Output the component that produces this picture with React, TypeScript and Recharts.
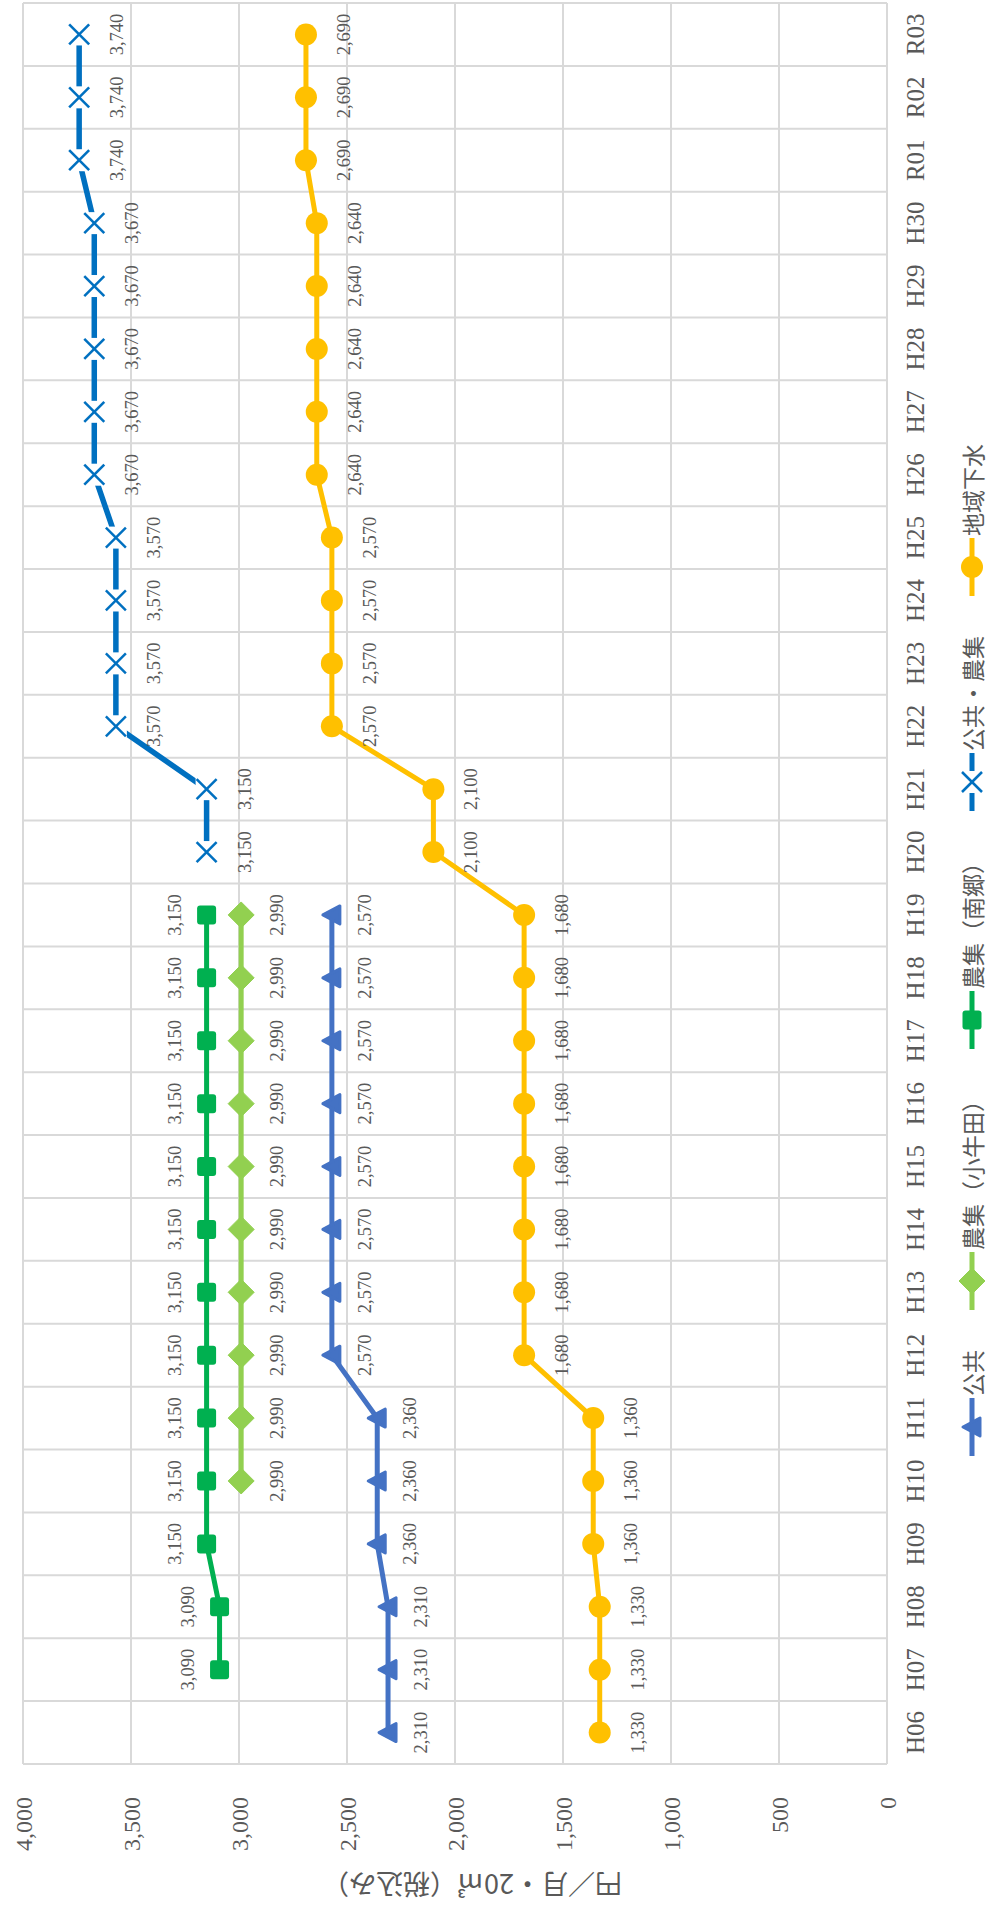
import React from 'react';
import { LineChart, Line, XAxis, YAxis, CartesianGrid, Legend, LabelList } from 'recharts';

const categories = ['H06','H07','H08','H09','H10','H11','H12','H13','H14','H15','H16','H17','H18','H19','H20','H21','H22','H23','H24','H25','H26','H27','H28','H29','H30','R01','R02','R03'];

const kokyo = [2310,2310,2310,2360,2360,2360,2570,2570,2570,2570,2570,2570,2570,2570,null,null,null,null,null,null,null,null,null,null,null,null,null,null];
const nosyuKogota = [null,null,null,null,2990,2990,2990,2990,2990,2990,2990,2990,2990,2990,null,null,null,null,null,null,null,null,null,null,null,null,null,null];
const nosyuNango = [null,3090,3090,3150,3150,3150,3150,3150,3150,3150,3150,3150,3150,3150,null,null,null,null,null,null,null,null,null,null,null,null,null,null];
const kokyoNosyu = [null,null,null,null,null,null,null,null,null,null,null,null,null,null,3150,3150,3570,3570,3570,3570,3670,3670,3670,3670,3670,3740,3740,3740];
const chiiki = [1330,1330,1330,1360,1360,1360,1680,1680,1680,1680,1680,1680,1680,1680,2100,2100,2570,2570,2570,2570,2640,2640,2640,2640,2640,2690,2690,2690];

const valueTicks = [0,500,1000,1500,2000,2500,3000,3500,4000];
const axisTitle = '円／月・20㎥（税込み）';

type Kind = 'triangle' | 'diamond' | 'square' | 'x' | 'circle';

const series: { key: string; name: string; color: string; kind: Kind; values: (number|null)[]; labelOffset: number; width: number }[] = [
  { key: 'kokyo', name: '公共', color: '#4472C4', kind: 'triangle', values: kokyo, labelOffset: 33, width: 5 },
  { key: 'kogota', name: '農集（小牛田）', color: '#92D050', kind: 'diamond', values: nosyuKogota, labelOffset: 36, width: 5 },
  { key: 'nango', name: '農集（南郷）', color: '#00B050', kind: 'square', values: nosyuNango, labelOffset: -32, width: 5 },
  { key: 'kokyoNosyu', name: '公共・農集', color: '#0070C0', kind: 'x', values: kokyoNosyu, labelOffset: 38, width: 5.5 },
  { key: 'chiiki', name: '地域下水', color: '#FFC000', kind: 'circle', values: chiiki, labelOffset: 38, width: 5 },
];

const data = categories.map((c, i) => {
  const row: Record<string, any> = { cat: c };
  series.forEach((s) => { row[s.key] = s.values[i]; });
  return row;
});

const FONT = '"Liberation Serif", "Noto Sans CJK JP", serif';
const JFONT = '"Noto Sans CJK JP", sans-serif';
const TEXT = '#595959';
const GRID = '#D9D9D9';

function marker(kind: Kind, cx: number, cy: number, color: string) {
  switch (kind) {
    case 'triangle':
      return <polygon points={`${cx},${cy - 9} ${cx + 9},${cy + 8} ${cx - 9},${cy + 8}`} fill={color} stroke={color} strokeWidth={3} strokeLinejoin="round" />;
    case 'diamond':
      return <polygon points={`${cx},${cy - 13} ${cx + 13},${cy} ${cx},${cy + 13} ${cx - 13},${cy}`} fill={color} stroke={color} strokeWidth={1} strokeLinejoin="round" />;
    case 'square':
      return <rect x={cx - 9.5} y={cy - 9.5} width={19} height={19} rx={3} fill={color} />;
    case 'x':
      return (
        <g>
          <rect x={cx - 11} y={cy - 11} width={22} height={22} fill="#FFFFFF" />
          <line x1={cx - 10} y1={cy - 10} x2={cx + 10} y2={cy + 10} stroke={color} strokeWidth={2.5} />
          <line x1={cx - 10} y1={cy + 10} x2={cx + 10} y2={cy - 10} stroke={color} strokeWidth={2.5} />
        </g>
      );
    default:
      return <circle cx={cx} cy={cy} r={11} fill={color} />;
  }
}

const makeDot = (kind: Kind, color: string) => (props: any) => {
  const { cx, cy, value, index } = props;
  if (cx == null || cy == null || value == null || Number.isNaN(cy)) return <g key={`e${index}`} />;
  return <g key={`d${index}`}>{marker(kind, cx, cy, color)}</g>;
};

const makeLabel = (offset: number) => (props: any) => {
  const { x, y, value, index } = props;
  if (value == null || x == null || y == null) return null;
  return (
    <text key={`l${index}`} x={x} y={Number(y) + offset} textAnchor="middle" dominantBaseline="central" fill={TEXT} fontSize={18.5} fontFamily={FONT}>
      {Number(value).toLocaleString('en-US')}
    </text>
  );
};

const LegendContent = () => (
  <div style={{ display: 'flex', justifyContent: 'center', alignItems: 'center', width: 1908, paddingLeft: 8, boxSizing: 'border-box' }}>
    {series.map((s, i) => (
      <div key={s.key} style={{ display: 'flex', alignItems: 'center', marginRight: i < series.length - 1 ? 40 : 0 }}>
        <svg width={58} height={28} style={{ display: 'block' }}>
          <line x1={0} y1={14} x2={58} y2={14} stroke={s.color} strokeWidth={5} strokeLinecap="round" />
          {marker(s.kind, 29, 14, s.color)}
        </svg>
        <span style={{ marginLeft: 2, fontFamily: JFONT, fontSize: 23, color: TEXT, lineHeight: '28px', whiteSpace: 'nowrap' }}>{s.name}</span>
      </div>
    ))}
  </div>
);

export default function App() {
  return (
    <div style={{ position: 'absolute', left: 0, top: 0, width: 988, height: 1908, overflow: 'hidden', background: '#FFFFFF' }}>
      <div style={{ position: 'absolute', left: 0, top: 0, width: 1908, height: 988, transformOrigin: '0 0', transform: 'translateY(1908px) rotate(-90deg)' }}>
        <LineChart width={1908} height={988} data={data} margin={{ top: 23, right: 3, left: 0, bottom: 0 }}>
          <CartesianGrid
            stroke={GRID}
            strokeWidth={2}
            verticalCoordinatesGenerator={(args: any) => {
              const off = args && args.offset ? args.offset : { left: 144, width: 1761 };
              return Array.from({ length: categories.length + 1 }, (_, i) => off.left + (i * off.width) / categories.length);
            }}
          />
          <XAxis
            dataKey="cat"
            scale="band"
            interval={0}
            axisLine={false}
            tickLine={false}
            tickMargin={13}
            height={101}
            tick={{ fill: TEXT, fontSize: 25, fontFamily: FONT }}
          />
          <YAxis
            type="number"
            domain={[0, 4000]}
            ticks={valueTicks}
            width={144}
            axisLine={false}
            tickLine={false}
            tickMargin={27}
            tickFormatter={(v: number) => v.toLocaleString('en-US')}
            tick={{ fill: TEXT, fontSize: 24, fontFamily: FONT }}
          />
          <Legend layout="horizontal" align="center" verticalAlign="middle" wrapperStyle={{ top: 958, left: 0, width: 1908, height: 28 }} content={LegendContent} />
          {series.map((s) => (
            <Line
              key={s.key}
              type="linear"
              dataKey={s.key}
              name={s.name}
              stroke={s.color}
              strokeWidth={s.width}
              dot={makeDot(s.kind, s.color)}
              activeDot={false}
              isAnimationActive={false}
            >
              <LabelList dataKey={s.key} content={makeLabel(s.labelOffset)} />
            </Line>
          ))}
        </LineChart>
        <div style={{ position: 'absolute', left: 23, top: 472, width: 0, height: 0 }}>
          <div style={{ position: 'absolute', transform: 'translate(-50%, -50%) rotate(-90deg)', whiteSpace: 'nowrap', fontFamily: JFONT, fontSize: 27, color: TEXT, lineHeight: '30px' }}>
            {axisTitle}
          </div>
        </div>
      </div>
    </div>
  );
}
